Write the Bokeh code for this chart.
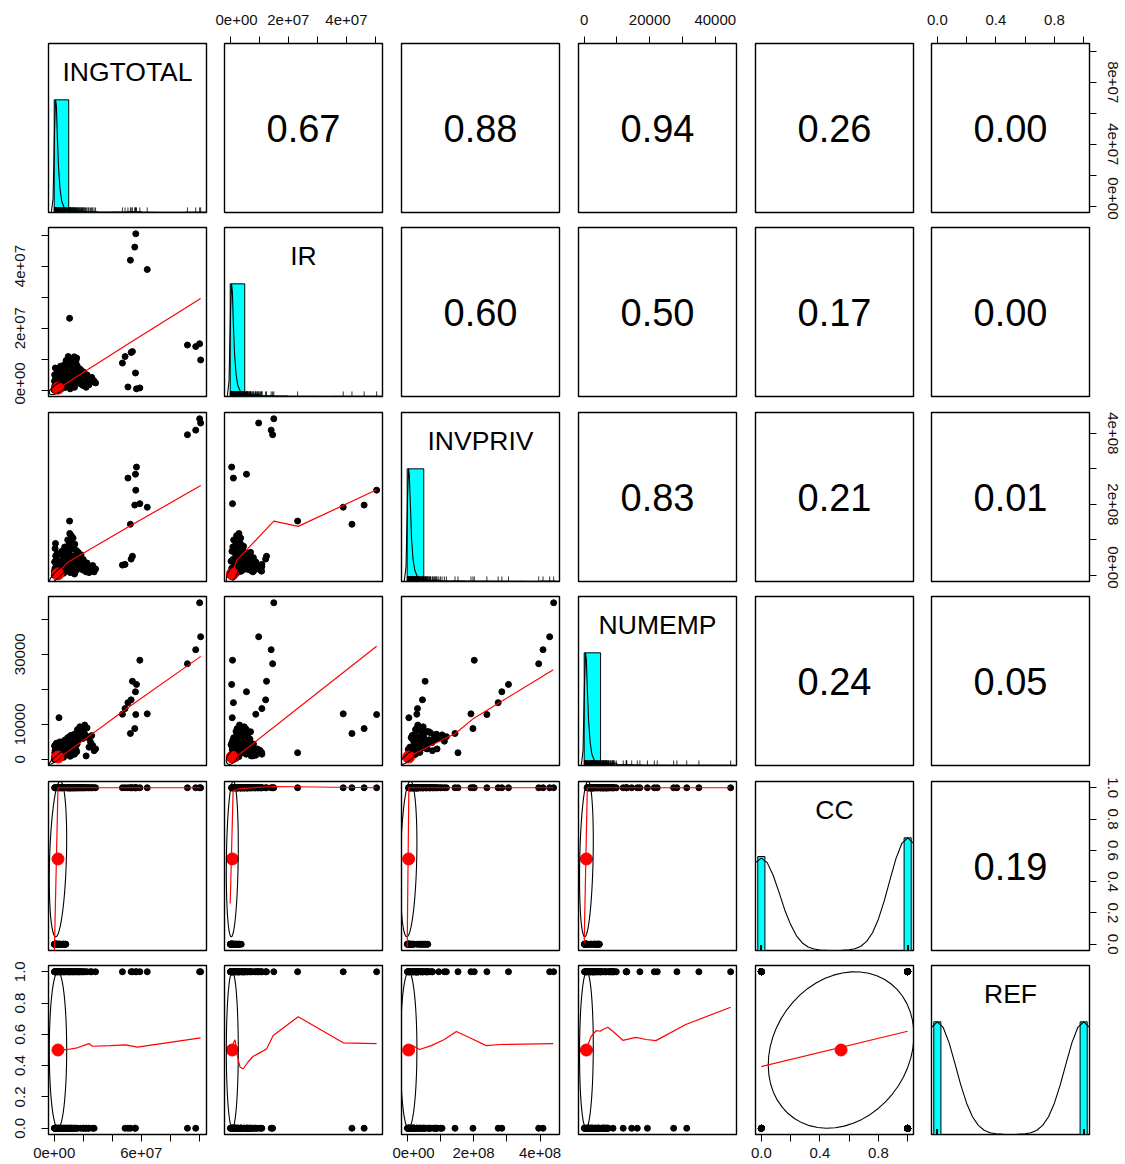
import math
from bokeh.plotting import figure
from bokeh.layouts import gridplot
from bokeh.models import Range1d, LinearAxis, FixedTicker
from bokeh.core.properties import value
from bokeh.embed import file_html
from bokeh.resources import INLINE

FONT = "Liberation Sans"

# ---------------- data ----------------
var_names = ["INGTOTAL", "IR", "INVPRIV", "NUMEMP", "CC", "REF"]

# observations: dense cluster (two blocks), then the visible outliers
ingtotal_millions = [0.1, 0.3, 0.5, 0.7, 0.9, 1.1, 1.3, 1.5, 1.8, 2.0, 2.3, 2.6, 3.0, 3.4, 3.8, 4.2, 4.6, 5.0,
                     0.8, 0.6, 1.5, 3.9, 1.0, 2.2, 0.5,
                     5.5, 6.0, 6.5, 7.0, 7.5, 8.0, 8.5, 9.0, 9.7, 10.0, 10.7, 11.0, 11.5, 12.0, 12.5, 13.0, 13.5,
                     14.2, 15.0, 15.5, 16.5, 17.7, 18.5, 19.5, 21.0, 22.0, 23.5, 25.0, 26.5, 28.5, 16.0, 20.0,
                     0.4, 0.2, 1.2, 1.7, 2.5, 2.9, 3.3, 3.6, 4.4, 4.8, 5.2, 5.8, 6.2, 6.8, 7.2, 7.8, 8.2, 8.8,
                     9.3, 9.9, 10.3, 10.9, 11.3, 11.8, 12.3, 12.8, 13.3, 13.8, 14.6, 15.3, 15.8, 16.8, 17.3, 18.0,
                     18.8, 19.8, 20.5, 21.5, 22.6, 24.0, 25.8, 27.5, 1.0, 2.8, 6.5, 11.0, 14.0, 0.3, 2.0, 0.9,
                     10.6, 3.3,
                     100.2, 100.9, 97.5, 91.8,
                     56.2, 55.5, 52.5, 64.1,
                     56.7, 56.0, 50.8, 59.0, 47.0, 48.8, 53.0, 53.9]
ir_millions = [0.05, 0.1, 0.2, 0.1, 0.4, 0.3, 0.6, 0.2, 0.8, 0.5, 1.0, 0.4, 1.4, 0.7, 1.8, 1.1, 2.3, 0.9,
               7.2, 1.2, 0.9, 1.6, 2.0, 4.5, 0.5,
               3.0, 1.5, 4.0, 2.2, 5.5, 1.8, 6.5, 3.5, 10.9, 2.6, 3.0, 8.8, 1.8, 8.8, 4.2, 3.6, 6.0,
               2.5, 9.5, 10.4, 7.0, 4.8, 2.0, 5.5, 3.2, 1.0, 3.8, 2.6, 3.5, 2.4, 4.0, 6.0,
               1.5, 3.0, 4.0, 2.8, 5.5, 0.3, 6.5, 3.2, 7.8, 4.8, 0.6, 6.8, 2.6, 8.2, 0.9, 3.8, 9.6, 5.0,
               1.2, 7.5, 4.8, 10.2, 5.8, 2.2, 7.0, 9.2, 4.6, 10.8, 6.2, 3.0, 8.0, 5.2, 2.4, 6.8,
               3.6, 1.6, 4.4, 2.8, 5.0, 1.8, 4.2, 3.0, 0.7, 2.0, 1.2, 0.5, 1.0, 5.0, 6.0, 3.5,
               23.2, 0.7,
               15.0, 9.8, 14.1, 14.6,
               50.4, 46.1, 41.9, 38.9,
               0.5, 5.6, 1.1, 0.8, 8.8, 10.9, 12.2, 12.5]
invpriv_millions = [0.5, 1.0, 2.0, 1.5, 3.0, 4.0, 2.5, 6.0, 5.0, 8.0, 3.5, 10, 7.0, 12, 9.0, 15, 11, 18,
                    14, 76, 45, 30, 55, 25, 20,
                    22, 35, 28, 48, 18, 62, 30, 70, 25, 85, 118, 38, 95, 20, 75, 105, 55,
                    88, 30, 15, 65, 48, 58, 40, 32, 10, 12, 20, 28, 18, 25, 45,
                    8, 12, 18, 30, 22, 40, 16, 60, 10, 35, 68, 26, 52, 14, 80, 42, 20, 58,
                    100, 45, 66, 28, 50, 112, 35, 22, 82, 12, 40, 70, 50, 35, 28, 22,
                    45, 15, 28, 20, 35, 8, 15, 10, 3, 5, 6, 8, 4, 38, 62, 90,
                    153, 5,
                    441, 429, 409, 396,
                    240, 198, 144, 192,
                    305, 285, 274, 202, 29, 31, 46, 54]
numemp_thousands = [0.05, 0.1, 0.2, 0.3, 0.15, 0.4, 0.5, 0.35, 0.7, 0.9, 0.6, 1.1, 1.3, 0.8, 1.6, 1.9, 1.2, 2.2,
                    1.0, 2.5, 4.6, 5.0, 3.2, 2.8, 4.0,
                    2.6, 3.0, 2.0, 3.8, 3.3, 4.4, 2.4, 5.2, 1.5, 5.8, 6.5, 2.0, 6.0, 1.2, 4.8, 7.0, 5.5,
                    7.2, 2.8, 2.2, 7.9, 9.3, 8.0, 8.6, 9.8, 1.0, 6.2, 5.0, 4.0, 3.0, 8.5, 6.8,
                    1.8, 0.8, 2.0, 3.5, 1.5, 4.2, 2.6, 3.0, 1.0, 3.6, 4.8, 2.9, 4.0, 1.8, 5.5, 4.6, 2.2, 5.0,
                    6.2, 3.4, 5.6, 2.6, 6.8, 5.2, 4.0, 3.0, 6.6, 2.0, 6.0, 7.6, 4.4, 6.4, 8.8, 5.8,
                    7.4, 6.0, 8.2, 7.0, 9.0, 3.5, 6.8, 2.5, 2.8, 0.3, 0.6, 0.9, 1.5, 3.8, 4.4, 3.0,
                    1.9, 11.9,
                    44.7, 35.0, 31.3, 27.3,
                    12.8, 8.8, 7.4, 13.0,
                    21.4, 19.3, 16.2, 28.3, 12.9, 14.5, 17.0, 22.3]
cc = [0, 0, 0, 0, 0, 0, 0, 0, 0, 0, 0, 0, 1, 0, 1, 0, 1, 0,
      1, 1, 0, 1, 0, 1, 0,
      1, 0, 1, 0, 1, 0, 1, 1, 1, 1, 1, 1, 1, 1, 1, 1, 1,
      1, 1, 1, 1, 1, 1, 1, 1, 1, 1, 1, 1, 1, 1, 1,
      0, 0, 1, 0, 1, 0, 1, 0, 1, 1, 1, 1, 0, 1, 1, 0, 1, 1,
      1, 1, 1, 1, 1, 1, 1, 1, 1, 1, 1, 1, 1, 1, 1, 1,
      1, 1, 1, 1, 1, 1, 1, 1, 0, 0, 0, 1, 1, 1, 1, 1,
      1, 1,
      1, 1, 1, 1,
      1, 1, 1, 1,
      1, 1, 1, 1, 1, 1, 1, 1]
ref = [0, 1, 0, 1, 0, 1, 0, 1, 0, 1, 0, 1, 0, 1, 0, 1, 0, 1,
       0, 1, 0, 1, 0, 1, 1,
       0, 1, 0, 1, 0, 0, 1, 0, 1, 0, 1, 0, 1, 0, 1, 0, 1,
       0, 1, 0, 1, 1, 1, 1, 1, 0, 0, 1, 0, 1, 1, 0,
       0, 1, 0, 1, 0, 1, 0, 1, 0, 1, 0, 1, 0, 1, 0, 1, 0, 1,
       0, 1, 0, 1, 0, 1, 0, 1, 0, 1, 0, 1, 0, 1, 1, 0,
       1, 0, 1, 0, 1, 0, 1, 0, 1, 0, 1, 0, 1, 0, 1, 0,
       1, 0,
       1, 1, 0, 0,
       1, 0, 0, 1,
       1, 0, 0, 1, 1, 0, 1, 1]

ingtotal = [v * 1e6 for v in ingtotal_millions]
ir = [v * 1e6 for v in ir_millions]
invpriv = [v * 1e6 for v in invpriv_millions]
numemp = [v * 1e3 for v in numemp_thousands]
data = [ingtotal, ir, invpriv, numemp, cc, ref]

# summary statistics (means, sds, correlations) as printed / drawn in the chart
var_means = [2.6e6, 0.72e6, 4.3e6, 680, 0.545, 0.50]
var_sds = [6.0e6, 2.06e6, 2.5e7, 2100, 0.498, 0.50]
cor_matrix = [
    [1.00, 0.67, 0.88, 0.94, 0.26, 0.00],
    [0.67, 1.00, 0.60, 0.50, 0.17, 0.00],
    [0.88, 0.60, 1.00, 0.83, 0.21, 0.01],
    [0.94, 0.50, 0.83, 1.00, 0.24, 0.05],
    [0.26, 0.17, 0.21, 0.24, 1.00, 0.19],
    [0.00, 0.00, 0.01, 0.05, 0.19, 1.00],
]

# histograms (relative heights) on the diagonal
ing_breaks = [0, 1e7, 2e7, 3e7, 4e7, 5e7, 6e7, 7e7, 8e7, 9e7, 1e8, 1.1e8]
ing_hist = [1.0, 0.014, 0.006, 0.0, 0.002, 0.007, 0.001, 0.0, 0.0, 0.002, 0.002]
ir_breaks = [0, 5e6, 1e7, 1.5e7, 2e7, 2.5e7, 3e7, 3.5e7, 4e7, 4.5e7, 5e7, 5.5e7]
ir_hist = [1.0, 0.02, 0.006, 0.002, 0.0006, 0.0006, 0.0, 0.0006, 0.0006, 0.0006, 0.0006]
inv_breaks = [0, 5e7, 1e8, 1.5e8, 2e8, 2.5e8, 3e8, 3.5e8, 4e8, 4.5e8]
inv_hist = [1.0, 0.012, 0.003, 0.003, 0.003, 0.002, 0.001, 0.0, 0.003]
num_breaks = [0, 5000, 10000, 15000, 20000, 25000, 30000, 35000, 40000, 45000]
num_hist = [1.0, 0.02, 0.006, 0.002, 0.002, 0.001, 0.001, 0.001, 0.0005]
binary_levels = [0, 1]
cc_hist = [0.834, 1.0]
ref_hist = [1.0, 1.0]

# density curves (scaled to max 1) on the diagonal
ing_dens_x = [-2.0e6, -0.8e6, 0.2e6, 0.9e6, 1.5e6, 2.2e6, 3.0e6, 4.0e6, 5.2e6, 6.8e6, 9.0e6, 1.3e7, 2.0e7, 4.0e7, 7.0e7, 1.04e8]
ing_dens_y = [0.0, 0.12, 0.72, 1.0, 0.95, 0.66, 0.40, 0.21, 0.10, 0.045, 0.02, 0.01, 0.006, 0.004, 0.002, 0.001]
ir_dens_x = [-1.0e6, -0.4e6, 0.1e6, 0.45e6, 0.75e6, 1.1e6, 1.5e6, 2.0e6, 2.6e6, 3.4e6, 4.5e6, 6.5e6, 1.0e7, 2.0e7, 3.5e7, 5.2e7]
ir_dens_y = [0.0, 0.14, 0.75, 1.0, 0.93, 0.64, 0.38, 0.2, 0.1, 0.05, 0.022, 0.011, 0.006, 0.003, 0.002, 0.001]
inv_dens_x = [-0.9e7, -0.35e7, 0.1e7, 0.4e7, 0.65e7, 1.0e7, 1.3e7, 1.75e7, 2.3e7, 3.0e7, 4.0e7, 5.7e7, 8.8e7, 1.75e8, 3.0e8, 4.55e8]
inv_dens_y = [0.0, 0.13, 0.74, 1.0, 0.94, 0.65, 0.39, 0.2, 0.1, 0.046, 0.02, 0.01, 0.006, 0.003, 0.002, 0.001]
num_dens_x = [-900, -350, 90, 400, 650, 1000, 1350, 1800, 2350, 3100, 4100, 5900, 9000, 18000, 31000, 46000]
num_dens_y = [0.0, 0.13, 0.73, 1.0, 0.94, 0.65, 0.4, 0.21, 0.1, 0.046, 0.02, 0.01, 0.006, 0.003, 0.002, 0.001]
bin_dens_x = [-0.04, 0.0, 0.04, 0.08, 0.12, 0.16, 0.2, 0.24, 0.28, 0.32, 0.36, 0.4, 0.45, 0.5,
              0.55, 0.6, 0.64, 0.68, 0.72, 0.76, 0.8, 0.84, 0.88, 0.92, 0.96, 1.0, 1.04]
cc_dens_y = [0.78, 0.82, 0.78, 0.67, 0.52, 0.36, 0.23, 0.13, 0.067, 0.031, 0.013, 0.005, 0.0015, 0.0005,
             0.0015, 0.006, 0.016, 0.038, 0.081, 0.158, 0.278, 0.441, 0.631, 0.815, 0.95, 1.0, 0.95]
ref_dens_y = [0.95, 1.0, 0.95, 0.815, 0.631, 0.441, 0.278, 0.158, 0.081, 0.038, 0.016, 0.006, 0.0015, 0.0006,
              0.0015, 0.006, 0.016, 0.038, 0.081, 0.158, 0.278, 0.441, 0.631, 0.815, 0.95, 1.0, 0.95]

# lowess smoothers (red lines) of the lower panels
lo_ir_ing_x = [0.0, 2.6e6, 1.0e7, 5.0e7, 1.009e8]
lo_ir_ing_y = [-0.3e6, 0.5e6, 2.8e6, 1.47e7, 2.96e7]
lo_inv_ing_x = [0.0, 3.0e6, 9.7e6, 5.3e7, 1.01e8]
lo_inv_ing_y = [-1.2e7, 1.0e7, 3.8e7, 1.41e8, 2.53e8]
lo_num_ing_x = [0.0, 2.6e6, 5.0e7, 1.01e8]
lo_num_ing_y = [-600, 150, 14500, 29400]
lo_inv_ir_x = [0.0, 2.3e6, 1.5e7, 2.34e7, 5.04e7]
lo_inv_ir_y = [-0.8e7, 4.3e7, 1.53e8, 1.38e8, 2.41e8]
lo_num_ir_x = [0.0, 5.04e7]
lo_num_ir_y = [-600, 32300]
lo_num_inv_x = [0.0, 4.3e6, 5.0e7, 1.45e8, 2.0e8, 4.4e8]
lo_num_inv_y = [-100, 780, 2950, 7400, 11700, 25600]
lo_cc_ing_x = [0.1e6, 2.6e6, 1.01e8]
lo_cc_ing_y = [-0.05, 1.0, 1.0]
lo_cc_ir_x = [0.0, 1.0e6, 3.4e6, 1.5e7, 5.04e7]
lo_cc_ir_y = [0.26, 0.98, 0.995, 1.008, 1.0]
lo_cc_inv_x = [0.0, 5.0e6, 4.41e8]
lo_cc_inv_y = [-0.02, 1.0, 1.0]
lo_cc_num_x = [0, 950, 44700]
lo_cc_num_y = [0.01, 1.0, 1.0]
lo_ref_ing_x = [0.3e6, 2.6e6, 9.05e6, 1.59e7, 2.39e7, 2.63e7, 3.89e7, 4.92e7, 5.73e7, 1.009e8]
lo_ref_ing_y = [0.50, 0.503, 0.503, 0.514, 0.541, 0.524, 0.528, 0.533, 0.518, 0.578]
lo_ref_ir_x = [0.3e6, 0.72e6, 1.2e6, 1.65e6, 2.0e6, 2.6e6, 3.4e6, 4.5e6, 6.0e6, 7.9e6, 1.0e7, 1.25e7, 1.48e7, 2.34e7, 3.89e7, 5.04e7]
lo_ref_ir_y = [0.49, 0.50, 0.55, 0.565, 0.53, 0.45, 0.39, 0.38, 0.42, 0.46, 0.48, 0.507, 0.592, 0.712, 0.546, 0.541]
lo_ref_inv_x = [0.2e7, 0.43e7, 1.6e7, 3.7e7, 7.3e7, 1.12e8, 1.48e8, 1.87e8, 2.38e8, 2.78e8, 4.4e8]
lo_ref_inv_y = [0.50, 0.503, 0.528, 0.503, 0.528, 0.567, 0.618, 0.58, 0.528, 0.535, 0.541]
lo_ref_num_x = [400, 648, 1170, 2170, 3680, 4900, 5700, 7200, 8750, 11800, 15800, 18900, 21900, 31000, 44700]
lo_ref_num_y = [0.46, 0.507, 0.535, 0.588, 0.624, 0.62, 0.631, 0.645, 0.62, 0.562, 0.581, 0.567, 0.56, 0.663, 0.773]
lo_ref_cc_x = [0, 1]
lo_ref_cc_y = [0.394, 0.62]

# axis ticks and their printed labels
ing_ticks = [0, 2e7, 4e7, 6e7, 8e7, 1e8]
ir_ticks = [0, 1e7, 2e7, 3e7, 4e7, 5e7]
inv_ticks = [0, 1e8, 2e8, 3e8, 4e8]
num_ticks = [0, 10000, 20000, 30000, 40000]
bin_ticks = [0, 0.2, 0.4, 0.6, 0.8, 1.0]
ing_bottom_labels = {0: "0e+00", 6e7: "6e+07"}
ing_right_labels = {0: "0e+00", 4e7: "4e+07", 8e7: "8e+07"}
ir_labels = {0: "0e+00", 2e7: "2e+07", 4e7: "4e+07"}
inv_labels = {0: "0e+00", 2e8: "2e+08", 4e8: "4e+08"}
num_top_labels = {0: "0", 20000: "20000", 40000: "40000"}
num_left_labels = {0: "0", 10000: "10000", 30000: "30000"}
bin_three_labels = {0: "0.0", 0.4: "0.4", 0.8: "0.8"}
bin_all_labels = {0: "0.0", 0.2: "0.2", 0.4: "0.4", 0.6: "0.6", 0.8: "0.8", 1.0: "1.0"}

# ---------------- assembly ----------------
hists = {0: (ing_breaks, ing_hist), 1: (ir_breaks, ir_hist), 2: (inv_breaks, inv_hist), 3: (num_breaks, num_hist)}
bin_hists = {4: cc_hist, 5: ref_hist}
dens = {0: (ing_dens_x, ing_dens_y), 1: (ir_dens_x, ir_dens_y), 2: (inv_dens_x, inv_dens_y),
        3: (num_dens_x, num_dens_y), 4: (bin_dens_x, cc_dens_y), 5: (bin_dens_x, ref_dens_y)}
smooth = {(1, 0): (lo_ir_ing_x, lo_ir_ing_y), (2, 0): (lo_inv_ing_x, lo_inv_ing_y), (3, 0): (lo_num_ing_x, lo_num_ing_y),
          (2, 1): (lo_inv_ir_x, lo_inv_ir_y), (3, 1): (lo_num_ir_x, lo_num_ir_y), (3, 2): (lo_num_inv_x, lo_num_inv_y),
          (4, 0): (lo_cc_ing_x, lo_cc_ing_y), (4, 1): (lo_cc_ir_x, lo_cc_ir_y), (4, 2): (lo_cc_inv_x, lo_cc_inv_y),
          (4, 3): (lo_cc_num_x, lo_cc_num_y), (5, 0): (lo_ref_ing_x, lo_ref_ing_y), (5, 1): (lo_ref_ir_x, lo_ref_ir_y),
          (5, 2): (lo_ref_inv_x, lo_ref_inv_y), (5, 3): (lo_ref_num_x, lo_ref_num_y), (5, 4): (lo_ref_cc_x, lo_ref_cc_y)}
ticks = [ing_ticks, ir_ticks, inv_ticks, num_ticks, bin_ticks, bin_ticks]
top_axes = {1: ir_labels, 3: num_top_labels, 5: bin_three_labels}
bottom_axes = {0: ing_bottom_labels, 2: inv_labels, 4: bin_three_labels}
left_axes = {1: ir_labels, 3: num_left_labels, 5: bin_all_labels}
right_axes = {0: ing_right_labels, 2: inv_labels, 4: bin_all_labels}


def data_range(vals):
    lo, hi = min(vals), max(vals)
    d = hi - lo
    return lo - 0.04 * d, hi + 0.04 * d


ranges = [data_range(v) for v in data]


def ellipse_points(xm, ym, xs, ys, r, segments=51):
    th = (1 if r >= 0 else -1) / math.sqrt(2)
    a, b = math.sqrt(1 + r), math.sqrt(1 - r)
    ex, ey = [], []
    for k in range(segments + 1):
        t = 2 * math.pi * k / segments
        c, s = math.cos(t), math.sin(t)
        ex.append((c * a * th - s * b * th) * xs + xm)
        ey.append((c * a * th + s * b * th) * ys + ym)
    return ex, ey


def add_axis(p, side, tick_list, labels):
    ax = LinearAxis(ticker=FixedTicker(ticks=tick_list))
    ax.major_label_overrides = {t: labels.get(t, "") for t in tick_list}
    ax.bounds = (tick_list[0], tick_list[-1])
    ax.axis_line_color = "black"
    ax.axis_line_width = 1
    ax.major_tick_line_color = "black"
    ax.major_tick_line_width = 1
    ax.major_tick_out = 7
    ax.major_tick_in = 0
    ax.minor_tick_line_color = None
    ax.major_label_text_font = FONT
    ax.major_label_text_font_size = "15px"
    ax.major_label_text_color = "#111111"
    if side == "above":
        ax.major_label_standoff = 12
    elif side == "below":
        ax.major_label_standoff = 6
    elif side == "left":
        ax.major_label_orientation = "vertical"
        ax.major_label_standoff = 16
    else:
        ax.major_label_orientation = "vertical"
        ax.major_label_standoff = 11
    p.add_layout(ax, side)


FRAME_W, FRAME_H = 158, 169
border_left = [48, 9, 9, 9, 9, 9]
border_right = [9, 10, 10, 10, 9, 36]
border_top = [43, 8, 8, 8, 8, 8]
border_bottom = [7, 8, 7, 8, 7, 29]

rows = []
for i in range(6):
    row = []
    for j in range(6):
        xr = ranges[j]
        yr = (0.0, 1.5) if i == j else ranges[i]
        p = figure(frame_width=FRAME_W, frame_height=FRAME_H,
                   x_range=Range1d(*xr), y_range=Range1d(*yr),
                   toolbar_location=None, tools="", output_backend="svg",
                   x_axis_location=None, y_axis_location=None,
                   min_border_left=border_left[j], min_border_right=border_right[j],
                   min_border_top=border_top[i], min_border_bottom=border_bottom[i],
                   background_fill_color="white", border_fill_color="white")
        p.outline_line_color = "black"
        p.outline_line_width = 1.4
        p.xgrid.visible = False
        p.ygrid.visible = False

        if i == j:
            if i in hists:
                br, hv = hists[i]
                p.quad(left=br[:-1], right=br[1:], bottom=[0] * len(hv), top=hv,
                       fill_color="cyan", line_color="black", line_width=1)
            else:
                half = (binary_levels[1] - binary_levels[0]) / 41
                p.quad(left=[v - half for v in binary_levels], right=[v + half for v in binary_levels],
                       bottom=[0, 0], top=bin_hists[i], fill_color="cyan", line_color="black", line_width=1)
            dx, dy = dens[i]
            p.line(dx, dy, line_color="black", line_width=1.1)
            rug_vals = data[i]
            p.segment(x0=rug_vals, y0=[0] * len(rug_vals), x1=rug_vals, y1=[0.045] * len(rug_vals),
                      line_color="black", line_width=0.8)
            p.text(x=[(xr[0] + xr[1]) / 2], y=[1.25], text=[var_names[i]],
                   text_font=value(FONT), text_font_size="26.5px", text_align="center",
                   text_baseline="middle", text_color="black")
        elif i < j:
            p.text(x=[(xr[0] + xr[1]) / 2], y=[(yr[0] + yr[1]) / 2], text=["%.2f" % cor_matrix[i][j]],
                   text_font=value(FONT), text_font_size="38px", text_align="center",
                   text_baseline="middle", text_color="black")
        else:
            p.scatter(data[j], data[i], size=6, fill_color="black", line_color="black")
            p.scatter([var_means[j]], [var_means[i]], size=12, fill_color="red", line_color="red")
            ex, ey = ellipse_points(var_means[j], var_means[i], var_sds[j], var_sds[i], cor_matrix[i][j])
            p.line(ex, ey, line_color="black", line_width=1.1)
            sx, sy = smooth[(i, j)]
            p.line(sx, sy, line_color="red", line_width=1.2)

        if i == 0 and j in top_axes:
            add_axis(p, "above", ticks[j], top_axes[j])
        if i == 5 and j in bottom_axes:
            add_axis(p, "below", ticks[j], bottom_axes[j])
        if j == 0 and i in left_axes:
            add_axis(p, "left", ticks[i], left_axes[i])
        if j == 5 and i in right_axes:
            add_axis(p, "right", ticks[i], right_axes[i])
        row.append(p)
    rows.append(row)

grid = gridplot(rows, toolbar_location=None)
open("out.html", "w").write(file_html(grid, INLINE))
